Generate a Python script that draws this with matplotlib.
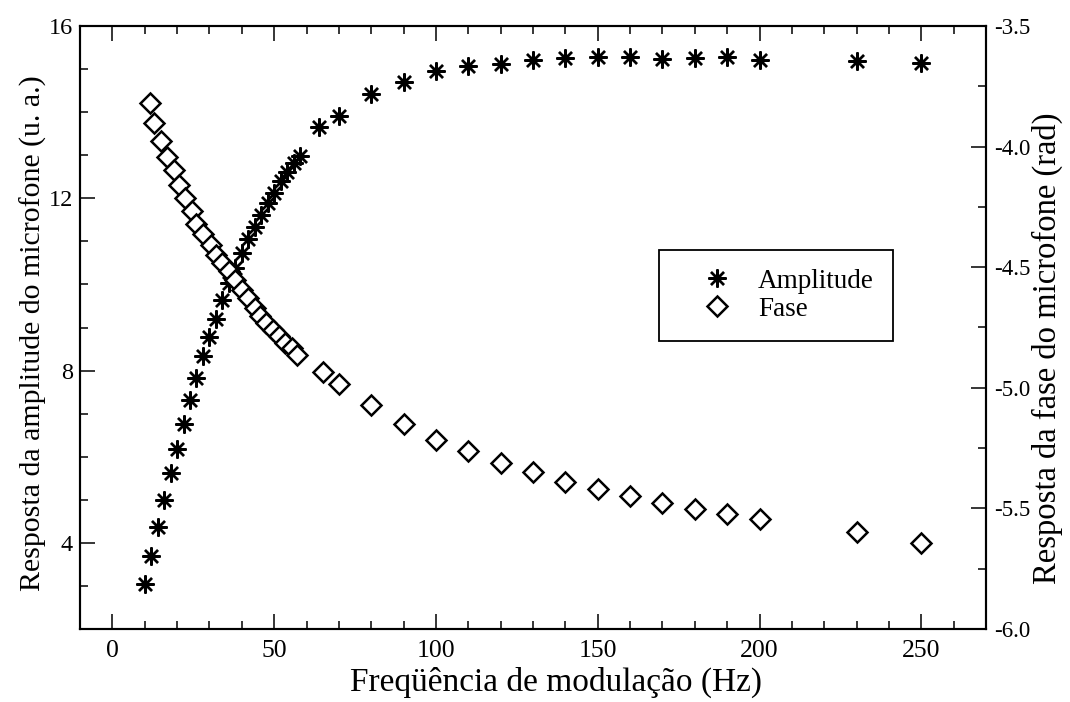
import matplotlib
matplotlib.use("Agg")
import matplotlib.pyplot as plt
from matplotlib.ticker import MultipleLocator, FormatStrFormatter
from matplotlib.lines import Line2D

plt.rcParams["font.family"] = ["Liberation Serif", "DejaVu Serif"]
plt.rcParams["axes.unicode_minus"] = False

# ---- data ----
amp_freq = [10, 12, 14, 16, 18, 20, 22, 24, 26, 28, 30, 32, 34, 36, 38, 40, 42,
            44, 46, 48, 50, 52, 54, 56, 58,
            64, 70, 80, 90, 100, 110, 120, 130, 140, 150, 160, 170, 180, 190,
            200, 230, 250]
amp_values = [3.04, 3.69, 4.37, 5.00, 5.63, 6.19, 6.77, 7.31, 7.82, 8.33, 8.77,
              9.19, 9.64, 10.03, 10.38, 10.73, 11.06, 11.34, 11.62, 11.90,
              12.13, 12.39, 12.60, 12.83, 12.99,
              13.65, 13.92, 14.41, 14.71, 14.95, 15.06, 15.12, 15.22, 15.25,
              15.28, 15.28, 15.24, 15.25, 15.27, 15.20, 15.18, 15.15]

phase_freq = [11.5, 13, 15, 17, 19, 20.5, 22.5, 24.5, 26, 28, 30.5, 32, 34, 36,
              38, 40, 42, 44, 45.5, 47.5, 49.5, 51.5, 53.5, 55.5, 57,
              65, 70, 80, 90, 100, 110, 120, 130, 140, 150, 160, 170, 180, 190,
              200, 230, 250]
phase_values = [-3.821, -3.904, -3.976, -4.043, -4.098, -4.159, -4.212, -4.265,
                -4.320, -4.364, -4.409, -4.448, -4.483, -4.514, -4.552, -4.593,
                -4.628, -4.670, -4.704, -4.732, -4.760, -4.787, -4.815, -4.836,
                -4.862,
                -4.935, -4.985, -5.071, -5.149, -5.215, -5.264, -5.313, -5.350,
                -5.392, -5.420, -5.450, -5.477, -5.502, -5.525, -5.544, -5.599,
                -5.642]

x_label = "Freqüência de modulação (Hz)"
y_left_label = "Resposta da amplitude do microfone (u. a.)"
y_right_label = "Resposta da fase do microfone (rad)"
amp_name = "Amplitude"
phase_name = "Fase"

# ---- figure ----
W, H = 1070, 702
fig = plt.figure(figsize=(W / 100, H / 100), dpi=100)
ax = fig.add_axes([80 / W, 1 - 629 / H, 906 / W, 603 / H])
ax2 = ax.twinx()

amp_star = dict(linestyle="none", marker=(8, 2, 0), markersize=13,
                markeredgewidth=1.7, color="black")
amp_dot = dict(linestyle="none", marker="o", markersize=5, color="black")
ph_style = dict(linestyle="none", marker="D", markersize=10,
                markerfacecolor="white", markeredgecolor="black",
                markeredgewidth=1.8)

ax.plot(amp_freq, amp_values, **amp_star)
ax.plot(amp_freq, amp_values, **amp_dot)
ax2.plot(phase_freq, phase_values, **ph_style)

ax.set_xlim(-10, 270)
ax.set_ylim(2, 16)
ax2.set_ylim(-6.0, -3.5)

ax.xaxis.set_major_locator(MultipleLocator(50))
ax.xaxis.set_minor_locator(MultipleLocator(10))
ax.yaxis.set_major_locator(MultipleLocator(4))
ax.yaxis.set_minor_locator(MultipleLocator(1))
ax2.yaxis.set_major_locator(MultipleLocator(0.5))
ax2.yaxis.set_minor_locator(MultipleLocator(0.25))
ax2.yaxis.set_major_formatter(FormatStrFormatter("%.1f"))

for a in (ax, ax2):
    for s in a.spines.values():
        s.set_linewidth(1.5)

ax.tick_params(which="both", direction="in", top=True, right=False, width=1.1)
ax.tick_params(which="major", length=11)
ax.tick_params(which="minor", length=6)
ax.tick_params(axis="x", pad=8, labelsize=18.5)
ax.tick_params(axis="y", pad=5, labelsize=17.5)
ax2.tick_params(which="both", direction="in", width=1.1, labelsize=16.5, pad=6)
ax2.tick_params(which="major", length=11)
ax2.tick_params(which="minor", length=6)

ax.set_xlabel(x_label, fontsize=24)
ax.set_ylabel(y_left_label, fontsize=21.5)
ax2.set_ylabel(y_right_label, fontsize=23.5)
ax.xaxis.set_label_coords(0.525, -0.063)
ax.yaxis.set_label_coords(-0.036, 0.49)
ax2.yaxis.set_label_coords(1.0505, 0.465)

# legend
h_amp = (Line2D([], [], **amp_star), Line2D([], [], **amp_dot))
h_ph = Line2D([], [], **ph_style)
leg = ax2.legend([h_amp, h_ph], [amp_name, phase_name], loc="upper left",
                 bbox_to_anchor=(0.639, 0.6285), fontsize=19.5, frameon=True,
                 fancybox=False, edgecolor="black", framealpha=1,
                 handlelength=2.9, handletextpad=0.05, borderpad=0.7,
                 labelspacing=0.1, borderaxespad=0)
leg.get_frame().set_linewidth(1.3)

fig.savefig("out.png", dpi=100)
